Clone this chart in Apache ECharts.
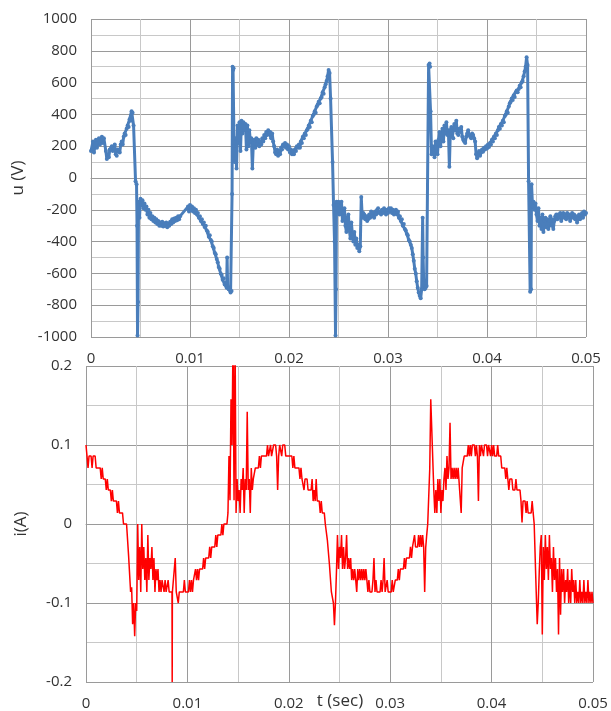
<!DOCTYPE html>
<html>
<head>
<meta charset="utf-8">
<script src="https://cdn.jsdelivr.net/npm/echarts@6/dist/echarts.min.js"></script>
<style>
    html, body {margin: 0; padding: 0; background: #fff;}
    #chart {width: 611px; height: 711px;}
</style>
</head>
<body>
<div id="chart"></div>
<script>
// tick labels
let timeTicks = [0, 0.01, 0.02, 0.03, 0.04, 0.05]
let voltTicks = [-1000, -800, -600, -400, -200, 0, 200, 400, 600, 800, 1000]
let ampTicks = [-0.2, -0.1, 0, 0.1, 0.2]

// u (V) vs t (sec)
let voltData = [
    [0, 170], [0.0002, 230], [0.0003, 160], [0.0005, 240], [0.0006, 190], [0.0008, 250], [0.0009, 210],
    [0.0011, 260], [0.0012, 220], [0.0013, 250], [0.0015, 170], [0.0016, 120], [0.0017, 150], [0.0018, 130],
    [0.0019, 180], [0.0021, 200], [0.0022, 170], [0.0024, 210], [0.0025, 150], [0.0026, 140], [0.0027, 180],
    [0.0029, 160], [0.003, 210], [0.0031, 230], [0.0032, 210], [0.0033, 260], [0.0034, 280], [0.0035, 270],
    [0.0036, 310], [0.0037, 330], [0.0038, 320], [0.0039, 370], [0.004, 360], [0.0041, 420], [0.0042, 410],
    [0.0043, 330], [0.0045, -20], [0.0046, -40], [0.00465, -300], [0.0047, -990], [0.00475, -780], [0.0048, -150],
    [0.0049, -250], [0.005, -130], [0.0051, -170], [0.0052, -140], [0.0053, -190], [0.0054, -160], [0.0055, -200],
    [0.0056, -180], [0.0057, -230], [0.0058, -200], [0.0059, -250], [0.006, -220], [0.0061, -260], [0.0062, -240],
    [0.0063, -270], [0.0064, -250], [0.0065, -280], [0.0066, -260], [0.0067, -290], [0.0068, -270], [0.0069, -300],
    [0.007, -280], [0.0071, -300], [0.0072, -275], [0.0073, -305], [0.0074, -285], [0.0075, -300], [0.0076, -280],
    [0.0077, -310], [0.0078, -290], [0.0079, -300], [0.008, -275], [0.0081, -290], [0.0082, -260], [0.0083, -280],
    [0.0084, -255], [0.0085, -270], [0.0086, -250], [0.0087, -265], [0.0088, -240], [0.0089, -260], [0.009, -240],
    [0.0098, -180], [0.0099, -210], [0.01, -170], [0.0101, -200], [0.0102, -180], [0.0103, -210], [0.0104, -190],
    [0.0105, -220], [0.0106, -200], [0.0107, -230], [0.0108, -220], [0.0109, -250], [0.011, -240], [0.0111, -270],
    [0.0112, -260], [0.0113, -290], [0.0114, -280], [0.0115, -310], [0.0116, -300], [0.0117, -330], [0.0118, -340],
    [0.0119, -370], [0.012, -360], [0.0121, -390], [0.0122, -400], [0.0123, -430], [0.0124, -440], [0.0125, -470],
    [0.0126, -480], [0.0127, -510], [0.0128, -530], [0.0129, -560], [0.013, -570], [0.0131, -600], [0.0132, -610],
    [0.0133, -640], [0.0134, -630], [0.0135, -670], [0.0136, -660], [0.0137, -690], [0.01375, -500], [0.0138, -680],
    [0.0139, -700], [0.014, -690], [0.0141, -720], [0.0142, -710], [0.01425, -100], [0.0143, 700], [0.01435, 680],
    [0.0144, 690], [0.01445, 200], [0.0145, 100], [0.0146, 250], [0.0147, 60], [0.0148, 330], [0.0149, 220],
    [0.015, 350], [0.0151, 170], [0.0152, 360], [0.0153, 280], [0.0154, 350], [0.0155, 300], [0.0156, 340],
    [0.0157, 180], [0.0158, 330], [0.0159, 200], [0.016, 300], [0.0161, 230], [0.0162, 250], [0.0163, 60],
    [0.0164, 220], [0.0165, 240], [0.0166, 190], [0.0167, 250], [0.0168, 210], [0.0169, 240], [0.017, 200],
    [0.0171, 230], [0.0172, 210], [0.0173, 250], [0.0174, 230], [0.0175, 270], [0.0176, 250], [0.0177, 290],
    [0.0178, 270], [0.0179, 300], [0.018, 280], [0.0181, 290], [0.0182, 250], [0.0183, 280], [0.0184, 230],
    [0.0185, 200], [0.0186, 160], [0.0187, 150], [0.0188, 180], [0.0189, 140], [0.019, 170], [0.0191, 150],
    [0.0192, 190], [0.0193, 180], [0.0194, 210], [0.0195, 200], [0.0196, 220], [0.0197, 190], [0.0198, 210],
    [0.0199, 180], [0.02, 200], [0.0201, 160], [0.0202, 180], [0.0203, 150], [0.0204, 170], [0.0205, 150],
    [0.0206, 180], [0.0207, 170], [0.0208, 200], [0.0209, 190], [0.021, 210], [0.0211, 190], [0.0212, 230],
    [0.0213, 220], [0.0214, 260], [0.0215, 250], [0.0216, 280], [0.0217, 270], [0.0218, 300], [0.0219, 310],
    [0.022, 330], [0.0221, 320], [0.0222, 360], [0.0223, 350], [0.0224, 390], [0.0225, 400], [0.0226, 420],
    [0.0227, 410], [0.0228, 450], [0.0229, 460], [0.023, 480], [0.0231, 470], [0.0232, 500], [0.0233, 510],
    [0.0234, 540], [0.0235, 530], [0.0236, 570], [0.0237, 590], [0.0238, 610], [0.0239, 640], [0.024, 680],
    [0.0241, 660], [0.0242, 500], [0.0244, 100], [0.0245, -170], [0.0246, -400], [0.0247, -990], [0.02475, -700],
    [0.0248, -150], [0.0249, -170], [0.025, -150], [0.0251, -230], [0.0252, -180], [0.0253, -150], [0.0254, -270],
    [0.0255, -220], [0.0256, -190], [0.0257, -300], [0.0258, -340], [0.0259, -250], [0.026, -230], [0.0261, -330],
    [0.0262, -380], [0.0263, -280], [0.0264, -350], [0.0265, -400], [0.0266, -340], [0.0267, -420], [0.0268, -380],
    [0.0269, -440], [0.027, -420], [0.0271, -460], [0.0272, -430], [0.0273, -120], [0.0274, -250], [0.0275, -220],
    [0.0276, -230], [0.0277, -260], [0.0278, -240], [0.0279, -270], [0.028, -260], [0.0281, -230], [0.0282, -250],
    [0.0283, -210], [0.0284, -240], [0.0285, -220], [0.0286, -250], [0.0287, -210], [0.0288, -230], [0.0289, -200],
    [0.029, -190], [0.0291, -220], [0.0292, -210], [0.0293, -230], [0.0294, -200], [0.0295, -220], [0.0296, -190],
    [0.0297, -200], [0.0298, -230], [0.0299, -200], [0.03, -220], [0.0301, -190], [0.0302, -210], [0.0303, -190],
    [0.0304, -220], [0.0305, -200], [0.0306, -230], [0.0307, -220], [0.0308, -200], [0.0309, -230], [0.031, -210],
    [0.0311, -250], [0.0312, -240], [0.0313, -270], [0.0314, -260], [0.0315, -300], [0.0316, -290], [0.0317, -320],
    [0.0318, -330], [0.0319, -350], [0.032, -360], [0.0321, -390], [0.0322, -400], [0.0323, -420], [0.0324, -440],
    [0.0325, -480], [0.0326, -520], [0.0327, -570], [0.0328, -600], [0.0329, -650], [0.033, -690], [0.0331, -720],
    [0.0332, -740], [0.0333, -757], [0.0334, -700], [0.0335, -250], [0.03355, -500], [0.0336, -640], [0.0337, -700],
    [0.0338, -690], [0.0339, -680], [0.0341, 710], [0.0342, 720], [0.03425, 700], [0.0343, 420], [0.0344, 150],
    [0.0345, 200], [0.0346, 180], [0.0347, 130], [0.0348, 230], [0.0349, 190], [0.035, 150], [0.0351, 240],
    [0.0352, 290], [0.0353, 200], [0.0354, 250], [0.0355, 310], [0.0356, 230], [0.0357, 330], [0.0358, 280],
    [0.0359, 350], [0.036, 270], [0.0361, 300], [0.0362, 70], [0.0363, 300], [0.0364, 320], [0.0365, 260],
    [0.0366, 250], [0.0367, 340], [0.0368, 300], [0.0369, 360], [0.037, 280], [0.0371, 270], [0.0372, 310],
    [0.0373, 290], [0.0374, 320], [0.0375, 260], [0.0376, 240], [0.0377, 230], [0.0378, 220], [0.0379, 260],
    [0.038, 280], [0.0381, 300], [0.0382, 270], [0.0383, 260], [0.0384, 250], [0.0385, 280], [0.0386, 270],
    [0.0387, 250], [0.0388, 230], [0.0389, 150], [0.039, 125], [0.0391, 140], [0.0392, 170], [0.0393, 140],
    [0.0394, 160], [0.0395, 180], [0.0396, 165], [0.0397, 190], [0.0398, 180], [0.0399, 200], [0.04, 185],
    [0.0401, 210], [0.0402, 195], [0.0403, 220], [0.0404, 210], [0.0405, 240], [0.0406, 230], [0.0407, 260],
    [0.0408, 250], [0.0409, 280], [0.041, 270], [0.0411, 300], [0.0412, 320], [0.0413, 310], [0.0414, 340],
    [0.0415, 330], [0.0416, 360], [0.0417, 350], [0.0418, 390], [0.0419, 400], [0.042, 420], [0.0421, 410],
    [0.0422, 450], [0.0423, 470], [0.0424, 480], [0.0425, 500], [0.0426, 490], [0.0427, 520], [0.0428, 510],
    [0.0429, 540], [0.043, 550], [0.0431, 540], [0.0432, 560], [0.0433, 580], [0.0434, 570], [0.0435, 600],
    [0.0436, 610], [0.0437, 640], [0.0438, 670], [0.0439, 700], [0.044, 760], [0.0441, 710], [0.0442, -20],
    [0.04436, -715], [0.04445, -700], [0.0445, -40], [0.0446, -180], [0.0447, -150], [0.0448, -200], [0.0449, -160],
    [0.045, -230], [0.0451, -270], [0.0452, -190], [0.0453, -300], [0.0454, -250], [0.0455, -320], [0.0456, -230],
    [0.0457, -340], [0.0458, -270], [0.0459, -250], [0.046, -310], [0.0461, -260], [0.0462, -320], [0.0463, -270],
    [0.0464, -240], [0.0465, -300], [0.0466, -260], [0.0467, -320], [0.0468, -270], [0.0469, -240], [0.047, -230],
    [0.0471, -260], [0.0472, -230], [0.0473, -250], [0.0474, -220], [0.0475, -270], [0.0476, -240], [0.0477, -220],
    [0.0478, -250], [0.0479, -230], [0.048, -260], [0.0481, -220], [0.0482, -250], [0.0483, -230], [0.0484, -270],
    [0.0485, -240], [0.0486, -220], [0.0487, -250], [0.0488, -230], [0.0489, -260], [0.049, -240], [0.0491, -280],
    [0.0492, -250], [0.0493, -230], [0.0494, -260], [0.0495, -240], [0.0496, -220], [0.0497, -250], [0.0498, -210],
    [0.0499, -230], [0.05, -220]
]

// i(A) vs t (sec)
let ampData = [
    [0, 0.1], [0.0001, 0.086], [0.0002, 0.071], [0.0003, 0.086], [0.0005, 0.086], [0.0006, 0.071], [0.0007, 0.086],
    [0.0009, 0.086], [0.001, 0.071], [0.0014, 0.071], [0.0015, 0.057], [0.0016, 0.071], [0.0017, 0.057], [0.0019, 0.057],
    [0.002, 0.043], [0.0021, 0.057], [0.0022, 0.043], [0.0024, 0.043], [0.0025, 0.029], [0.0026, 0.043], [0.0027, 0.029],
    [0.003, 0.029], [0.0031, 0.014], [0.0032, 0.029], [0.0033, 0.014], [0.0036, 0.014], [0.0037, 0], [0.004, 0],
    [0.0042, -0.04], [0.0044, -0.086], [0.0045, -0.08], [0.0046, -0.127], [0.0047, -0.1], [0.0048, -0.142],
    [0.0049, -0.1], [0.005, -0.11], [0.0051, 0], [0.0052, -0.071], [0.0053, -0.029], [0.0054, -0.086], [0.0055, 0],
    [0.0056, -0.057], [0.0057, -0.029], [0.0058, -0.071], [0.0059, -0.043], [0.006, -0.086], [0.0061, -0.014],
    [0.0062, -0.071], [0.0063, -0.043], [0.0064, -0.057], [0.0065, -0.029], [0.0066, -0.071], [0.0067, -0.043],
    [0.0068, -0.086], [0.0069, -0.057], [0.007, -0.071], [0.0071, -0.057], [0.0072, -0.086], [0.0073, -0.071],
    [0.0074, -0.086], [0.0075, -0.071], [0.0076, -0.071], [0.0077, -0.086], [0.0078, -0.071], [0.0079, -0.086],
    [0.008, -0.086], [0.0081, -0.071], [0.0082, -0.086], [0.00848, -0.086], [0.0085, -0.2], [0.00852, -0.086],
    [0.0087, -0.086], [0.0088, -0.043], [0.0089, -0.086], [0.009, -0.086], [0.0091, -0.1], [0.0092, -0.086],
    [0.0096, -0.086], [0.0097, -0.071], [0.0098, -0.086], [0.0101, -0.086], [0.0102, -0.071], [0.0103, -0.086],
    [0.0104, -0.071], [0.0105, -0.086], [0.0106, -0.071], [0.0107, -0.071], [0.0108, -0.057], [0.0109, -0.071],
    [0.011, -0.057], [0.0111, -0.071], [0.0112, -0.057], [0.0115, -0.057], [0.0116, -0.043], [0.0117, -0.057],
    [0.0118, -0.043], [0.0121, -0.043], [0.0122, -0.029], [0.0123, -0.043], [0.0124, -0.029], [0.0127, -0.029],
    [0.0128, -0.014], [0.0129, -0.029], [0.013, -0.014], [0.0133, -0.014], [0.0134, 0], [0.0135, -0.014],
    [0.0136, 0], [0.0139, 0], [0.014, 0.014], [0.0141, 0.086], [0.0142, 0.03], [0.0143, 0.158], [0.0144, 0.1],
    [0.0145, 0.24], [0.0146, 0.03], [0.0147, 0.24], [0.0148, 0.014], [0.0149, 0.057], [0.015, 0.029], [0.0151, 0.043],
    [0.0152, 0.014], [0.0153, 0.057], [0.0154, 0.043], [0.0155, 0.071], [0.0156, 0.014], [0.0157, 0.057],
    [0.0158, 0.043], [0.0159, 0.142], [0.016, 0.043], [0.0161, 0.057], [0.0162, 0.014], [0.0163, 0.071],
    [0.0164, 0.043], [0.0165, 0.057], [0.0166, 0.057], [0.0167, 0.071], [0.017, 0.071], [0.0171, 0.086],
    [0.0172, 0.071], [0.0173, 0.086], [0.0178, 0.086], [0.0179, 0.1], [0.018, 0.086], [0.0182, 0.1], [0.0183, 0.086],
    [0.0185, 0.1], [0.0187, 0.1], [0.0188, 0.086], [0.0189, 0.043], [0.019, 0.086], [0.0191, 0.1], [0.0193, 0.086],
    [0.0194, 0.1], [0.0196, 0.1], [0.0197, 0.086], [0.0203, 0.086], [0.0204, 0.071], [0.0205, 0.086], [0.0206, 0.071],
    [0.021, 0.071], [0.0211, 0.057], [0.0212, 0.071], [0.0213, 0.057], [0.0215, 0.043], [0.0216, 0.057],
    [0.0218, 0.057], [0.0219, 0.043], [0.0222, 0.043], [0.0223, 0.057], [0.0224, 0.029], [0.0225, 0.043],
    [0.0226, 0.029], [0.0227, 0.057], [0.0228, 0.029], [0.023, 0.029], [0.0231, 0.014], [0.0232, 0.029],
    [0.0233, 0.014], [0.0235, 0.014], [0.0236, 0], [0.0238, -0.02], [0.024, -0.05], [0.0242, -0.086], [0.0244, -0.1],
    [0.0245, -0.128], [0.0246, -0.1], [0.0247, -0.06], [0.0248, -0.014], [0.0249, -0.057], [0.025, -0.029],
    [0.0251, -0.043], [0.0252, -0.014], [0.0253, -0.057], [0.0254, -0.029], [0.0255, -0.057], [0.0256, -0.043],
    [0.0257, -0.014], [0.0258, -0.057], [0.0259, -0.043], [0.026, -0.057], [0.0261, -0.043], [0.0262, -0.071],
    [0.0263, -0.057], [0.0264, -0.071], [0.0265, -0.057], [0.0266, -0.071], [0.0267, -0.086], [0.0268, -0.057],
    [0.0269, -0.071], [0.027, -0.057], [0.0271, -0.071], [0.0272, -0.057], [0.0273, -0.071], [0.0274, -0.057],
    [0.0275, -0.071], [0.0276, -0.057], [0.0277, -0.071], [0.0278, -0.086], [0.0279, -0.071], [0.028, -0.086],
    [0.0282, -0.086], [0.0283, -0.071], [0.0284, -0.043], [0.0285, -0.086], [0.0286, -0.071], [0.0287, -0.086],
    [0.029, -0.086], [0.0291, -0.071], [0.0292, -0.086], [0.0293, -0.071], [0.0294, -0.043], [0.0295, -0.086],
    [0.0297, -0.071], [0.0298, -0.086], [0.0301, -0.086], [0.0302, -0.071], [0.0303, -0.086], [0.0305, -0.071],
    [0.0307, -0.071], [0.0308, -0.057], [0.0309, -0.071], [0.031, -0.057], [0.0313, -0.057], [0.0314, -0.043],
    [0.0315, -0.057], [0.0316, -0.043], [0.0319, -0.043], [0.032, -0.029], [0.0321, -0.043], [0.0322, -0.029],
    [0.0324, -0.014], [0.0325, -0.029], [0.0327, -0.029], [0.0328, -0.014], [0.0329, -0.029], [0.033, -0.014],
    [0.0331, -0.029], [0.0332, -0.014], [0.0333, -0.029], [0.0334, -0.086], [0.0335, -0.03], [0.0336, -0.014],
    [0.0337, 0], [0.0339, 0.07], [0.034, 0.158], [0.0343, 0.043], [0.0344, 0.014], [0.0345, 0.043], [0.0346, 0.014],
    [0.0347, 0.057], [0.0348, 0.029], [0.0349, 0.057], [0.035, 0.014], [0.0351, 0.043], [0.0352, 0.029],
    [0.0353, 0.057], [0.0354, 0.071], [0.0355, 0.043], [0.0356, 0.086], [0.0357, 0.057], [0.0358, 0.071],
    [0.0359, 0.128], [0.036, 0.057], [0.0361, 0.071], [0.0362, 0.057], [0.0363, 0.071], [0.0364, 0.057],
    [0.0365, 0.071], [0.0366, 0.057], [0.0367, 0.071], [0.037, 0.014], [0.0371, 0.071], [0.0373, 0.086],
    [0.0376, 0.086], [0.0377, 0.1], [0.0378, 0.086], [0.0379, 0.1], [0.038, 0.086], [0.0381, 0.1], [0.0383, 0.1],
    [0.0384, 0.086], [0.0385, 0.1], [0.0386, 0.086], [0.0387, 0.029], [0.0388, 0.1], [0.0389, 0.086], [0.039, 0.1],
    [0.0392, 0.086], [0.0393, 0.1], [0.0395, 0.1], [0.0396, 0.086], [0.0397, 0.1], [0.0399, 0.086], [0.04, 0.1],
    [0.0401, 0.086], [0.0402, 0.1], [0.0403, 0.086], [0.0405, 0.086], [0.0406, 0.1], [0.0407, 0.086],
    [0.0409, 0.086], [0.041, 0.071], [0.0413, 0.071], [0.0414, 0.057], [0.0415, 0.071], [0.0416, 0.057],
    [0.0417, 0.043], [0.0418, 0.057], [0.042, 0.057], [0.0421, 0.043], [0.0423, 0.043], [0.0424, 0.057],
    [0.0425, 0.043], [0.0428, 0.043], [0.0429, 0.029], [0.043, 0.002], [0.0431, 0.029], [0.0433, 0.029],
    [0.0434, 0.014], [0.0435, 0.029], [0.0436, 0.014], [0.0439, 0.014], [0.044, 0.029], [0.0441, 0.014],
    [0.0442, 0], [0.0444, -0.086], [0.0445, -0.127], [0.0446, -0.1], [0.0447, -0.06], [0.0448, -0.029],
    [0.0449, -0.014], [0.045, -0.14], [0.0451, -0.029], [0.0452, -0.071], [0.0453, -0.014], [0.0454, -0.057],
    [0.0455, -0.029], [0.0456, -0.071], [0.0457, -0.014], [0.0458, -0.057], [0.0459, -0.043], [0.046, -0.086],
    [0.0461, -0.029], [0.0462, -0.071], [0.0463, -0.043], [0.0464, -0.086], [0.0465, -0.057], [0.0466, -0.14],
    [0.0467, -0.043], [0.0468, -0.115], [0.0469, -0.057], [0.047, -0.086], [0.0471, -0.057], [0.0472, -0.1],
    [0.0473, -0.071], [0.0474, -0.086], [0.0475, -0.057], [0.0476, -0.1], [0.0477, -0.071], [0.0478, -0.1],
    [0.0479, -0.057], [0.048, -0.086], [0.0481, -0.071], [0.0482, -0.1], [0.0483, -0.071], [0.0484, -0.1],
    [0.0485, -0.086], [0.0486, -0.1], [0.0487, -0.071], [0.0488, -0.1], [0.0489, -0.086], [0.049, -0.1],
    [0.0491, -0.071], [0.0492, -0.1], [0.0493, -0.086], [0.0494, -0.1], [0.0495, -0.071], [0.0496, -0.1],
    [0.0497, -0.086], [0.0498, -0.1], [0.0499, -0.086], [0.05, -0.1]
]

let labelFont = "Open Sans"
let majorGrid = "#9a9a9a"
let minorGrid = "#c8c8c8"

function plainLabel(value) {
    return String(value)
}

function timeAxis(gridIndex) {
    return {
        type: "value",
        gridIndex: gridIndex,
        min: timeTicks[0],
        max: timeTicks[timeTicks.length - 1],
        interval: timeTicks[1] - timeTicks[0],
        axisLine: {show: true, onZero: true, lineStyle: {color: majorGrid, width: 1}},
        axisTick: {show: false},
        minorTick: {show: true, splitNumber: 2, length: 0, lineStyle: {color: minorGrid}},
        axisLabel: {color: "#333", fontFamily: labelFont, fontSize: 15, margin: 14, formatter: plainLabel},
        splitLine: {show: true, showMinLine: true, showMaxLine: true, lineStyle: {color: majorGrid, width: 1, type: "solid"}},
        minorSplitLine: {show: true, lineStyle: {color: minorGrid, width: 1, type: "solid"}}
    }
}

function valueAxis(gridIndex, ticks, name, gap) {
    return {
        type: "value",
        gridIndex: gridIndex,
        min: ticks[0],
        max: ticks[ticks.length - 1],
        interval: ticks[1] - ticks[0],
        name: name,
        nameLocation: "middle",
        nameGap: gap,
        nameTextStyle: {color: "#333", fontFamily: labelFont, fontSize: 17},
        axisLine: {show: false},
        axisTick: {show: false},
        minorTick: {show: true, splitNumber: 2, length: 0, lineStyle: {color: minorGrid}},
        axisLabel: {color: "#333", fontFamily: labelFont, fontSize: 15, margin: 14, formatter: plainLabel},
        splitLine: {show: true, showMinLine: true, showMaxLine: true, lineStyle: {color: majorGrid, width: 1, type: "solid"}},
        minorSplitLine: {show: true, lineStyle: {color: minorGrid, width: 1, type: "solid"}}
    }
}

let chart = echarts.init(document.getElementById("chart"), null, {renderer: "canvas"})

let option = {
    animation: false,
    backgroundColor: "#fff",
    grid: [
        {left: 91, top: 19, width: 495, height: 318, show: false},
        {left: 86, top: 366, width: 507, height: 317, show: false}
    ],
    xAxis: [timeAxis(0), timeAxis(1)],
    yAxis: [
        valueAxis(0, voltTicks, "u (V)", 64),
        valueAxis(1, ampTicks, "i(A)", 56)
    ],
    graphic: [{
        type: "text",
        x: 340,
        y: 701,
        style: {
            text: "t (sec)",
            fill: "#333",
            font: "17px \"Open Sans\"",
            textAlign: "center",
            textVerticalAlign: "middle"
        }
    }],
    series: [{
        name: "u",
        type: "line",
        xAxisIndex: 0,
        yAxisIndex: 0,
        data: voltData,
        showSymbol: true,
        showAllSymbol: true,
        symbol: "circle",
        symbolSize: 4,
        color: "#4a7ebb",
        itemStyle: {color: "#4a7ebb"},
        lineStyle: {color: "#4a7ebb", width: 3},
        clip: true
    }, {
        name: "i",
        type: "line",
        xAxisIndex: 1,
        yAxisIndex: 1,
        data: ampData,
        showSymbol: false,
        color: "#ff0000",
        lineStyle: {color: "#ff0000", width: 1.5},
        clip: true
    }]
}
chart.setOption(option)
</script>
</body>
</html>
